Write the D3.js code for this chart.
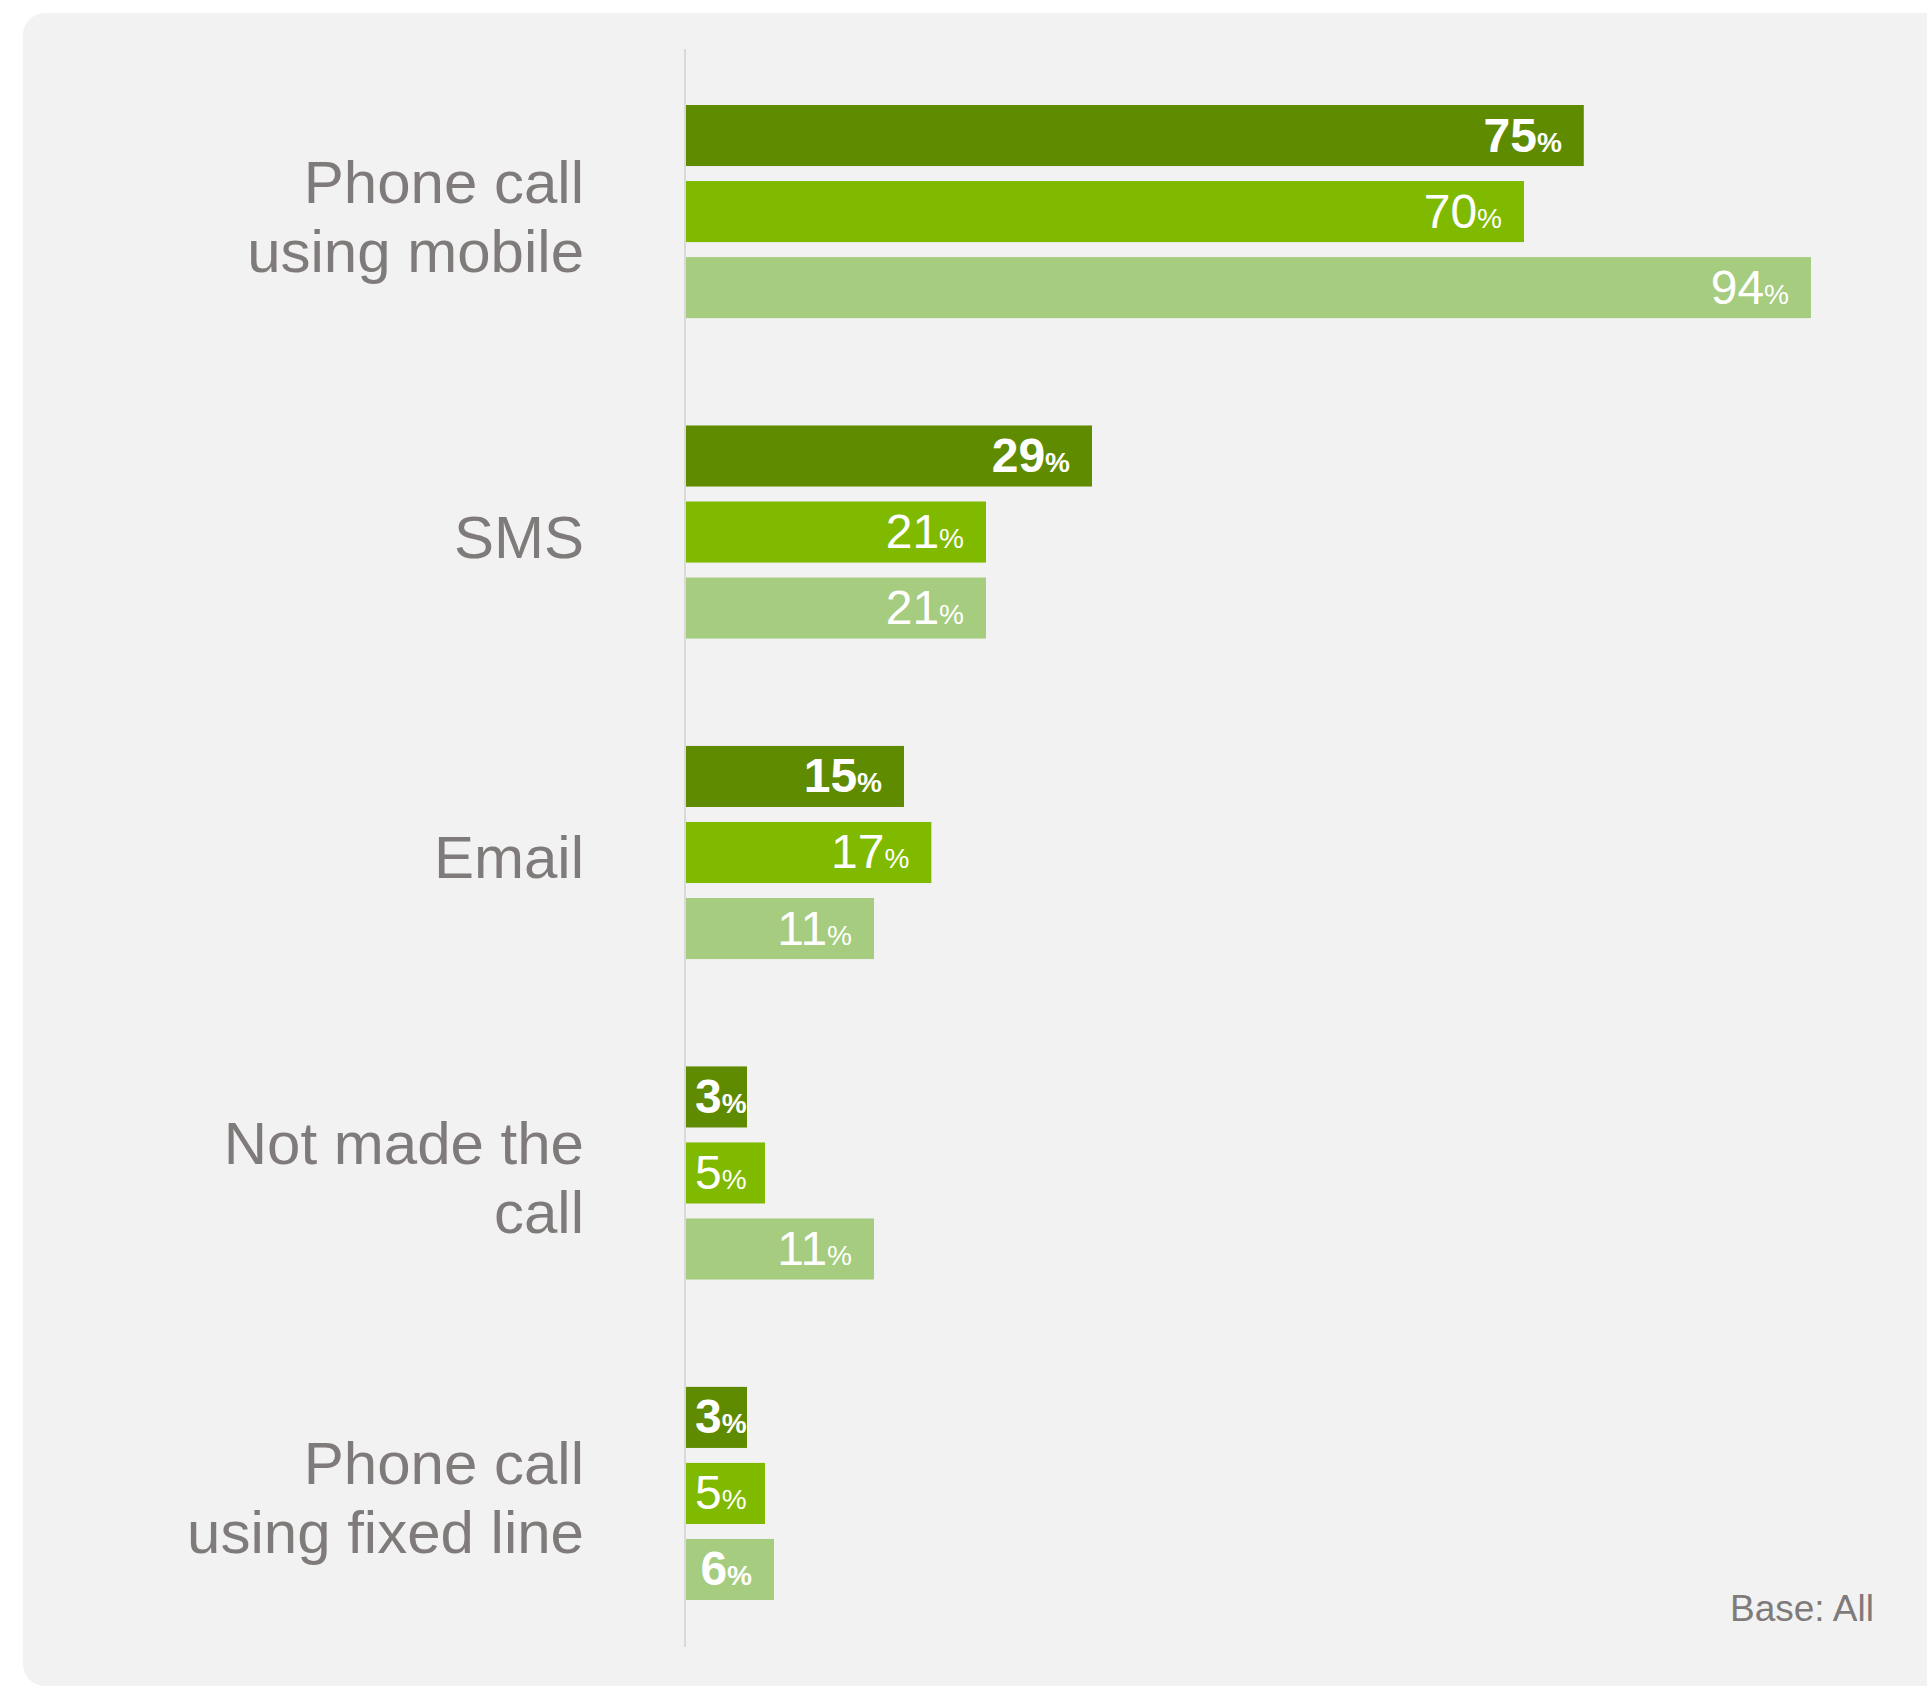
<!DOCTYPE html>
<html>
<head>
<meta charset="utf-8">
<script src="https://cdn.jsdelivr.net/npm/d3@7"></script>
<style>
  html, body { margin: 0; padding: 0; background: #ffffff; }
  svg { display: block; }
</style>
</head>
<body>
<svg id="chart" width="1927" height="1687"></svg>
<script>
// ---- Data ----
const categories = [
  "Phone call\nusing mobile",
  "SMS",
  "Email",
  "Not made the\ncall",
  "Phone call\nusing fixed line"
];
const seriesNames = ["Series 1", "Series 2", "Series 3"];
const series1 = [75, 29, 15, 3, 3];
const series2 = [70, 21, 17, 5, 5];
const series3 = [94, 21, 11, 11, 6];
const footnote = "Base: All";

// ---- Style / layout config ----
const W = 1927, H = 1687;
const colors = ["#5f8b00", "#7fba00", "#a6cc7f"];
const textGray = "#7f7b7a";
const panelColor = "#f2f2f2";
const axisX = 685;
const boldSeries = 0;
const boldExtra = [{cat: 4, ser: 2}];  // the "6%" label is also bold in the original

const svg = d3.select("#chart");

// Panel
svg.append("rect")
  .attr("x", 23).attr("y", 13)
  .attr("width", W).attr("height", 1673)
  .attr("rx", 22).attr("ry", 22)
  .attr("fill", panelColor);

const values = [series1, series2, series3];
const rows = categories.map((c, i) => ({
  cat: c, i,
  vals: values.map((s, j) => ({ser: j, v: s[i], cat: i}))
}));

// Group scale
const y0 = d3.scaleBand()
  .domain(d3.range(categories.length))
  .range([105, 1600])
  .paddingInner(0.335)
  .paddingOuter(0);

const y1 = d3.scaleBand()
  .domain(d3.range(seriesNames.length))
  .range([0, y0.bandwidth()])
  .paddingInner(0.197);

// Bar-length scale: the original bars are not strictly proportional,
// so a piecewise-linear calibration of the value axis is used.
const x = d3.scaleLinear()
  .domain([0, 3, 6, 11, 15, 21, 29, 70, 94])
  .range([0, 61, 88, 188, 218, 300, 406, 838, 1125].map(d => axisX + 1 + d));

// Axis line
svg.append("line")
  .attr("x1", axisX).attr("x2", axisX)
  .attr("y1", 49).attr("y2", 1647)
  .attr("stroke", "#d9d9d9").attr("stroke-width", 2);

const groups = svg.selectAll("g.grp")
  .data(rows).enter().append("g")
  .attr("class", "grp")
  .attr("transform", d => `translate(0,${y0(d.i)})`);

groups.selectAll("rect.bar")
  .data(d => d.vals).enter().append("rect")
  .attr("class", "bar")
  .attr("x", x(0))
  .attr("y", d => y1(d.ser))
  .attr("width", d => x(d.v) - x(0))
  .attr("height", y1.bandwidth())
  .attr("fill", d => colors[d.ser]);

// Value labels
const numSize = 48, pctSize = 28, pad = 22;
groups.selectAll("text.val")
  .data(d => d.vals).enter().append("text")
  .attr("class", "val")
  .each(function(d) {
    const t = d3.select(this);
    const bold = d.ser === boldSeries || boldExtra.some(b => b.cat === d.cat && b.ser === d.ser);
    t.attr("font-family", "'Liberation Sans', Arial, sans-serif")
     .attr("fill", "#ffffff")
     .attr("y", y1(d.ser) + y1.bandwidth() / 2 + 16);
    t.append("tspan").attr("font-size", numSize)
      .attr("font-weight", bold ? "bold" : "normal").text(d.v);
    t.append("tspan").attr("font-size", pctSize)
      .attr("font-weight", bold ? "bold" : "normal").text("%");
    const w = this.getComputedTextLength();
    let xs = x(d.v) - pad - w;
    if (xs < x(0) + 9) xs = x(0) + 9;
    t.attr("x", xs);
  });

// Category labels
const catSize = 60, lineH = 69, cap = 43;
groups.append("text")
  .attr("class", "cat")
  .attr("font-family", "'Liberation Sans', Arial, sans-serif")
  .attr("font-size", catSize)
  .attr("fill", textGray)
  .attr("text-anchor", "end")
  .each(function(d) {
    const lines = d.cat.split("\n");
    const c = y0.bandwidth() / 2 + 4;
    const span = cap + (lines.length - 1) * lineH;
    const first = c - span / 2 + cap;
    d3.select(this).selectAll("tspan").data(lines).enter().append("tspan")
      .attr("x", 584)
      .attr("y", (l, k) => first + k * lineH)
      .text(l => l);
  });

// Footnote
svg.append("text")
  .attr("x", 1874).attr("y", 1621)
  .attr("text-anchor", "end")
  .attr("font-family", "'Liberation Sans', Arial, sans-serif")
  .attr("font-size", 37)
  .attr("fill", textGray)
  .text(footnote);
</script>
</body>
</html>
